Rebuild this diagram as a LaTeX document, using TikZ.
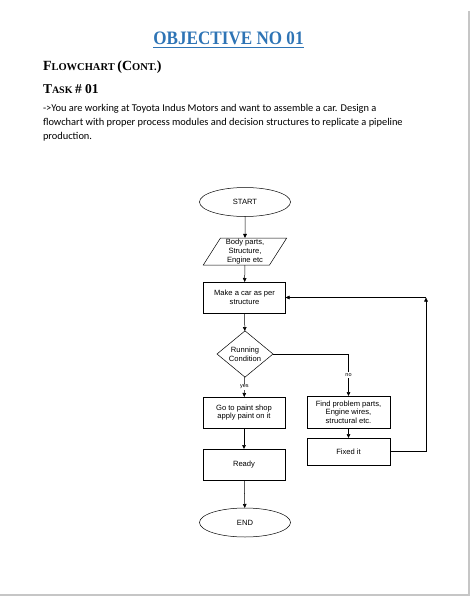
\documentclass[tikz,border=0pt]{standalone}
\usepackage{fontspec}
\setmainfont{Liberation Serif}
\newfontfamily\bodyfont{Carlito}
\newfontfamily\chartfont{Liberation Sans}
\usetikzlibrary{shapes.geometric,arrows.meta}
\definecolor{titleblue}{HTML}{2E74B5}
\definecolor{pagegray}{HTML}{C6C6C6}
\begin{document}
\begin{tikzpicture}[x=1pt,y=-1pt,
  every node/.style={inner sep=0pt, outer sep=0pt},
  chart/.style={font=\chartfont\fontsize{7.6}{8.6}\selectfont, align=center},
  proc/.style={chart, draw, line width=0.5pt, minimum width=82pt, minimum height=31pt},
  term/.style={chart, draw, ellipse, line width=0.5pt, minimum width=91pt, minimum height=29pt},
  dec/.style={chart, draw, diamond, line width=0.5pt, minimum width=56pt, minimum height=42pt},
  io/.style={chart, draw, trapezium, trapezium left angle=61, trapezium right angle=119, trapezium stretches=true, line width=0.5pt, minimum width=84pt, minimum height=27pt},
  lbl/.style={font=\chartfont\fontsize{5.5}{6}\selectfont, fill=white, inner sep=1pt},
  arr/.style={-{Triangle[length=4pt,width=3.6pt]}, line width=0.5pt},
  heading/.style={anchor=base west, font=\bfseries},
  body/.style={anchor=base west, font=\bodyfont\fontsize{10.4}{12}\selectfont}
]
\useasboundingbox (0,0) rectangle (470,596);
% page edge
\draw[pagegray, line width=1.2pt] (469,11) -- (469,595) -- (0,595);
% title
\node[anchor=base, text=titleblue, font=\bfseries\fontsize{19}{22}\selectfont] (title) at (228.5,44.5) {\scalebox{0.9}[1]{OBJECTIVE NO 01}};
\draw[titleblue, line width=0.9pt] (153,47.5) -- (304,47.5);
\node[heading] (h1) at (43,71) {\fontsize{14}{16}\selectfont F\fontsize{10.5}{12}\selectfont LOWCHART \fontsize{14}{16}\selectfont (C\fontsize{10.5}{12}\selectfont ONT.\fontsize{14}{16}\selectfont)};
\node[heading] (h2) at (43,93.3) {\fontsize{13.5}{16}\selectfont T\fontsize{10}{12}\selectfont ASK \fontsize{13.5}{16}\selectfont \# 01};
\node[body] (p1) at (43,112) {->You are working at Toyota Indus Motors and want to assemble a car. Design a};
\node[body] (p2) at (43,125.7) {flowchart with proper process modules and decision structures to replicate a pipeline};
\node[body] (p3) at (43,139.3) {production.};
% flowchart
\node[term] (start) at (245,202) {START};
\node[io] (input) at (245,251.5) {Body parts,\\Structure,\\Engine etc};
\node[proc] (make) at (244.5,297.5) {Make a car as per\\structure};
\node[dec] (cond) at (245,354) {Running\\Condition};
\node[proc] (paint) at (244,412.5) {Go to paint shop\\apply paint on it};
\node[proc] (ready) at (244,464.5) {Ready};
\node[term] (end) at (245,522.5) {END};
\node[proc, minimum width=83pt, minimum height=32pt] (find) at (348.5,412) {Find problem parts,\\Engine wires,\\structural etc.};
\node[proc, minimum width=83pt, minimum height=27pt] (fixed) at (348.5,451.5) {Fixed it};
\path (make.east) ++(140.5,0) coordinate (corner);
\draw[arr] (start) -- (input);
\draw[arr] (input) -- (make);
\draw[arr] (make) -- (cond);
\draw[arr] (cond) -- node[lbl] {yes} (paint);
\draw[arr] (cond.east) -| node[lbl, pos=0.75] {no} (find);
\draw[arr] (find) -- (fixed);
\draw[arr] (fixed.east) -| (corner);
\draw[arr] (corner) -- (make.east);
\draw[arr] (paint) -- (ready);
\draw[arr] (ready) -- (end);
\end{tikzpicture}
\end{document}
